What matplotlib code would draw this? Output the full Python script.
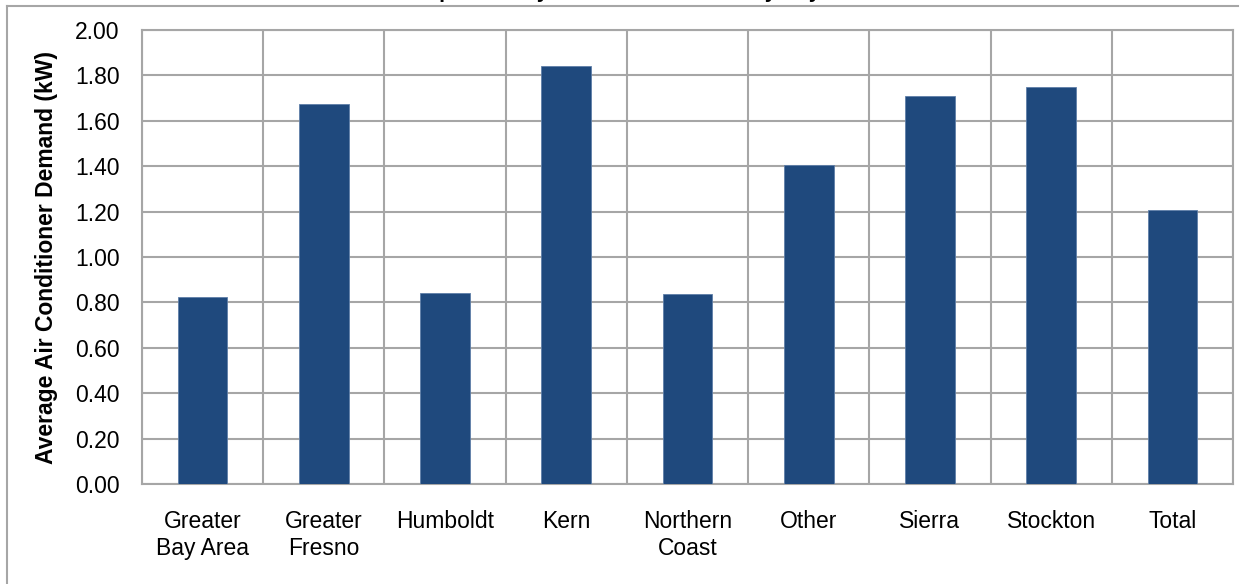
import matplotlib
matplotlib.use("Agg")
import matplotlib.pyplot as plt
from matplotlib.lines import Line2D
import numpy as np

# data
areas = [
    "Greater\nBay Area",
    "Greater\nFresno",
    "Humboldt",
    "Kern",
    "Northern\nCoast",
    "Other",
    "Sierra",
    "Stockton",
    "Total",
]
demand_kw = [0.822, 1.673, 0.840, 1.840, 0.835, 1.404, 1.711, 1.747, 1.205]
y_ticks = [0.0, 0.2, 0.4, 0.6, 0.8, 1.0, 1.2, 1.4, 1.6, 1.8, 2.0]

plt.rcParams["font.family"] = ["Liberation Sans", "DejaVu Sans"]

W, H = 1248, 584
fig = plt.figure(figsize=(W / 100, H / 100), dpi=100)
ax = fig.add_axes([142 / W, 1 - 484 / H, (1233 - 142) / W, (484 - 30) / H])

bar_color = "#1f497d"
grid_color = "#a6a6a6"

x = np.arange(len(areas))
ax.bar(x, demand_kw, width=0.41, color=bar_color, edgecolor="#5f7fa8",
       linewidth=0.6, zorder=3)

ax.set_xlim(-0.5, len(areas) - 0.5)
ax.set_ylim(0, 2.0)
ax.set_yticks(y_ticks)
ax.set_yticklabels([f"{v:.2f}" for v in y_ticks], fontsize=16.5)

# category boundaries as vertical gridlines (Excel style)
ax.set_xticks(x)
ax.set_xticklabels(areas, fontsize=16.5, linespacing=1.22)
ax.set_xticks(np.arange(len(areas) + 1) - 0.5, minor=True)
ax.grid(axis="y", which="major", color=grid_color, linewidth=1.5, zorder=0)
ax.grid(axis="x", which="minor", color=grid_color, linewidth=1.5, zorder=0)
ax.tick_params(axis="both", which="both", length=0)
ax.tick_params(axis="x", pad=19)
ax.tick_params(axis="y", pad=16)

for s in ax.spines.values():
    s.set_color(grid_color)
    s.set_linewidth(1.5)

ax.set_ylabel("Average Air Conditioner Demand (kW)", fontsize=16.5,
              fontweight="bold", labelpad=12)

# outer chart border (left and top edges visible in the crop)
fig.add_artist(Line2D([7 / W, 7 / W], [0, 1 - 6 / H], color=grid_color,
                      linewidth=1.5, transform=fig.transFigure))
fig.add_artist(Line2D([7 / W, 1238 / W], [1 - 6 / H, 1 - 6 / H],
                      color=grid_color, linewidth=1.5,
                      transform=fig.transFigure))

# title sits above the crop, only the descenders show
fig.text(193 / W, 1 + 1.5 / H,
         "Air Conditioner Demand per Unit by Local Climate Zone by Day",
         fontsize=15, fontweight="bold", ha="left", va="baseline")

fig.savefig("out.png", dpi=100)
